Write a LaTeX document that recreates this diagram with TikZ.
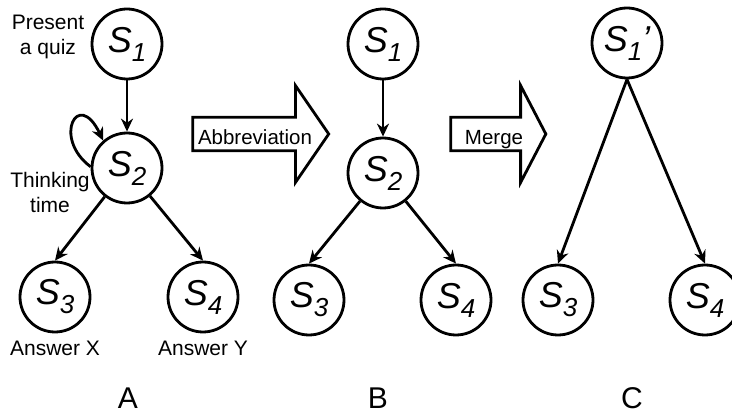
\documentclass[tikz,border=0pt]{standalone}
\usepackage{fontspec}
\setmainfont{Liberation Sans}
\usetikzlibrary{positioning,arrows.meta,shapes.arrows}
\newcommand{\stsub}[1]{\raisebox{-9pt}{\fontsize{26}{26}\selectfont #1}}

\begin{document}
\begin{tikzpicture}[
  x=1pt, y=-1pt,
  state/.style={draw, circle, line width=2.8pt, minimum size=70pt, inner sep=0pt, font=\fontsize{36}{36}\selectfont\itshape},
  arrow/.style={-{Stealth[length=13pt, width=12pt]}, line width=2.8pt},
  note/.style={font=\fontsize{21}{25}\selectfont, align=center, inner sep=0pt},
  panel/.style={font=\fontsize{30}{30}\selectfont, inner sep=0pt},
  bigarrow/.style={draw, single arrow, line width=2.8pt, inner sep=2pt, text height=21pt, text depth=0pt, minimum width=97pt, single arrow head extend=26.5pt, font=\fontsize{20.5}{24}\selectfont}
]
\useasboundingbox (0,0) rectangle (732,414);

\node[state] (s1a) at (127,44) {S\stsub{1}};
\node[state] (s2a) at (127,168) {S\stsub{2}};
\node[state] (s3a) at (55,297) {S\stsub{3}};
\node[state] (s4a) at (203,297) {S\stsub{4}};
\node[note] (quiz) at (48,37) {Present\\a quiz};
\node[note] (think) at (50,192) {Thinking\\time};
\node[note, below=7pt of s3a] (ansx) {Answer X};
\node[note, below=7pt of s4a] (ansy) {Answer Y};
\node[panel] (labA) at (128,398) {A};
\draw[arrow] (s1a) -- (s2a);
\draw[arrow] (s2a.178) .. controls (52,138) and (78,88) .. (s2a.131);
\draw[arrow] (s2a) -- (s3a.north);
\draw[arrow] (s2a) -- (s4a.north);

\node[bigarrow, minimum height=136pt, single arrow tip angle=111] (abbr) at (255,134) {Abbreviation};

\node[state] (s1b) at (383,44) {S\stsub{1}};
\node[state] (s2b) at (383,173) {S\stsub{2}};
\node[state] (s3b) at (309,300) {S\stsub{3}};
\node[state] (s4b) at (456,300) {S\stsub{4}};
\node[panel] (labB) at (378,398) {B};
\draw[arrow] (s1b) -- (s2b);
\draw[arrow] (s2b) -- (s3b.north);
\draw[arrow] (s2b) -- (s4b.north);

\node[bigarrow, minimum height=95pt, single arrow tip angle=125] (merge) at (494,134) {Merge};

\node[state] (s1c) at (627,43) {S\stsub{1}’};
\node[state] (s3c) at (558,300) {S\stsub{3}};
\node[state] (s4c) at (705,300) {S\stsub{4}};
\node[panel] (labC) at (632,398) {C};
\draw[arrow] (s1c.south) -- (s3c.north);
\draw[arrow] (s1c.south) -- (s4c.north);
\end{tikzpicture}
\end{document}
